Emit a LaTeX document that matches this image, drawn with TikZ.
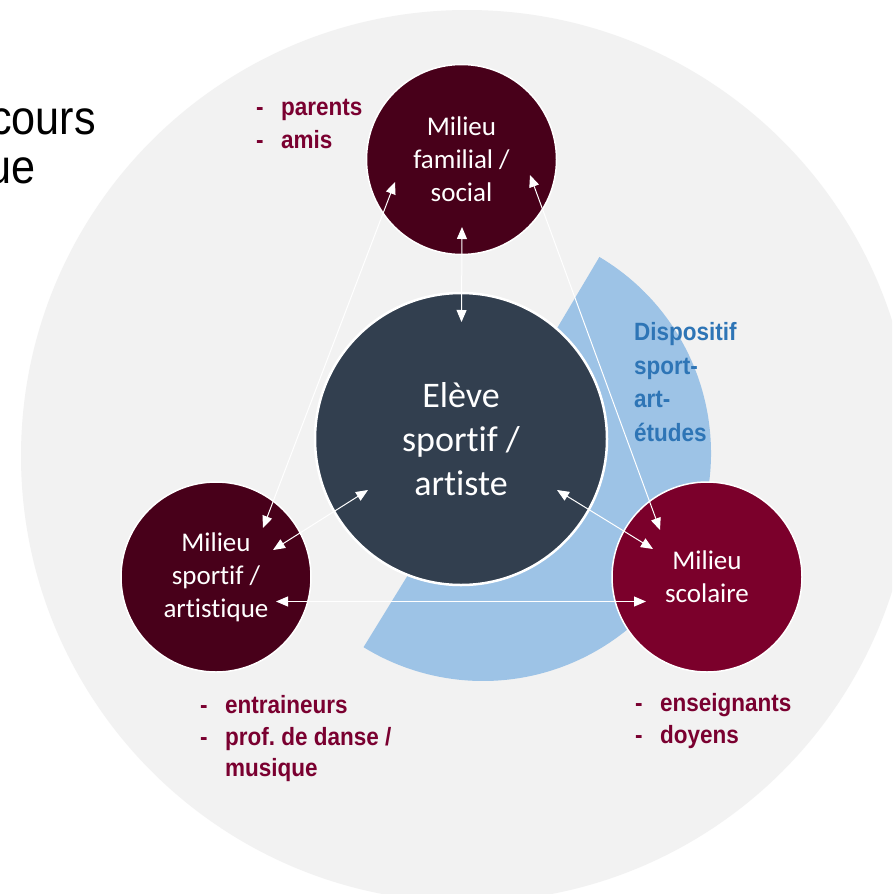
\documentclass[tikz,border=0pt]{standalone}
\usepackage{fontspec}
\setmainfont{Carlito}[Ligatures=NoCommon]
\newfontfamily\arialf{Liberation Sans}[FakeStretch=0.9]
\newfontfamily\arialn{Liberation Sans}[FakeStretch=0.9]
\usetikzlibrary{arrows.meta}
\frenchspacing
\definecolor{bggrey}{HTML}{F2F2F2}
\definecolor{sectorblue}{HTML}{9DC3E6}
\definecolor{bluetext}{HTML}{2E75B6}
\definecolor{maroondark}{HTML}{48001A}
\definecolor{maroonmid}{HTML}{7B002B}
\definecolor{slate}{HTML}{323F4F}
\definecolor{listred}{HTML}{7A0030}
\newcommand\litem{\makebox[25pt][l]{-}}
\tikzset{
  circ/.style={circle, draw=white, line width=1.5pt, minimum size=190pt, inner sep=0pt,
    text=white, align=center, font=\fontsize{27}{33}\selectfont},
  conn/.style={draw=white, line width=1pt,
    {Triangle[length=12pt,width=10pt]}-{Triangle[length=12pt,width=10pt]}},
  listtxt/.style={anchor=base west, inner sep=0pt, text=listred,
    font=\arialn\bfseries\fontsize{25}{32}\selectfont},
  bluetxt/.style={anchor=base west, inner sep=0pt, text=bluetext,
    font=\arialn\bfseries\fontsize{25}{33}\selectfont},
  titletxt/.style={anchor=base east, inner sep=0pt,
    font=\arialf\fontsize{48}{48}\selectfont}
}
\begin{document}
\begin{tikzpicture}[x=1pt,y=1pt]
\useasboundingbox (0,0) rectangle (892,-894);
\clip (0,0) rectangle (892,-894);
\fill[white] (0,0) rectangle (892,-894);
% background disc
\fill[bggrey] (467,-456) circle[radius=446];
% blue half disc
\fill[sectorblue] (483,-453) -- ++(59.3:228) arc[start angle=59.3, end angle=-121.6, radius=228] -- cycle;
% partial title text
\node[titletxt] (t1) at (96,-134) {cours};
\node[titletxt] (t2) at (36,-183) {ue};
% circles
\node[circ, fill=slate, line width=2.5pt, minimum size=292pt, font=\fontsize{36}{44}\selectfont] (el) at (461,-439) {Elève\\sportif /\\artiste};
\node[circ, fill=maroondark] (fam) at (461.5,-159.5) {Milieu\\familial /\\social};
\node[circ, fill=maroondark] (spo) at (216,-577) {Milieu\\sportif /\\artistique};
\node[circ, fill=maroonmid] (sco) at (707,-577) {Milieu\\scolaire};
% blue label
\node[bluetxt] (b1) at (634,-340) {Dispositif};
\node[bluetxt] (b2) at (634,-374) {sport-};
\node[bluetxt] (b3) at (634,-407) {art-};
\node[bluetxt] (b4) at (634,-441) {études};
% lists
\node[listtxt] (lf1) at (256,-115) {\litem parents};
\node[listtxt] (lf2) at (256,-148) {\litem amis};
\node[listtxt] (ls1) at (200,-713) {\litem entraineurs};
\node[listtxt] (ls2) at (200,-745) {\litem prof. de danse /};
\node[listtxt] (ls3) at (200,-776) {\hspace*{25pt}musique};
\node[listtxt] (lc1) at (635,-711) {\litem enseignants};
\node[listtxt] (lc2) at (635,-743) {\litem doyens};
% connector end points
\coordinate (famE) at (462,-227);
\coordinate (elF) at (461.5,-322);
\coordinate (famS) at (395,-182);
\coordinate (spoF) at (263,-528);
\coordinate (famC) at (530,-175);
\coordinate (scoF) at (660,-530);
\coordinate (elS) at (368,-490);
\coordinate (spoE) at (273,-550);
\coordinate (elC) at (557,-490);
\coordinate (scoE) at (653,-549);
\coordinate (spoC) at (276,-601.5);
\coordinate (scoS) at (646,-601.5);
% connectors
\draw[conn] (famE) -- (elF);
\draw[conn] (famS) -- (spoF);
\draw[conn] (famC) -- (scoF);
\draw[conn] (elS) -- (spoE);
\draw[conn] (elC) -- (scoE);
\draw[conn] (spoC) -- (scoS);
\end{tikzpicture}
\end{document}
